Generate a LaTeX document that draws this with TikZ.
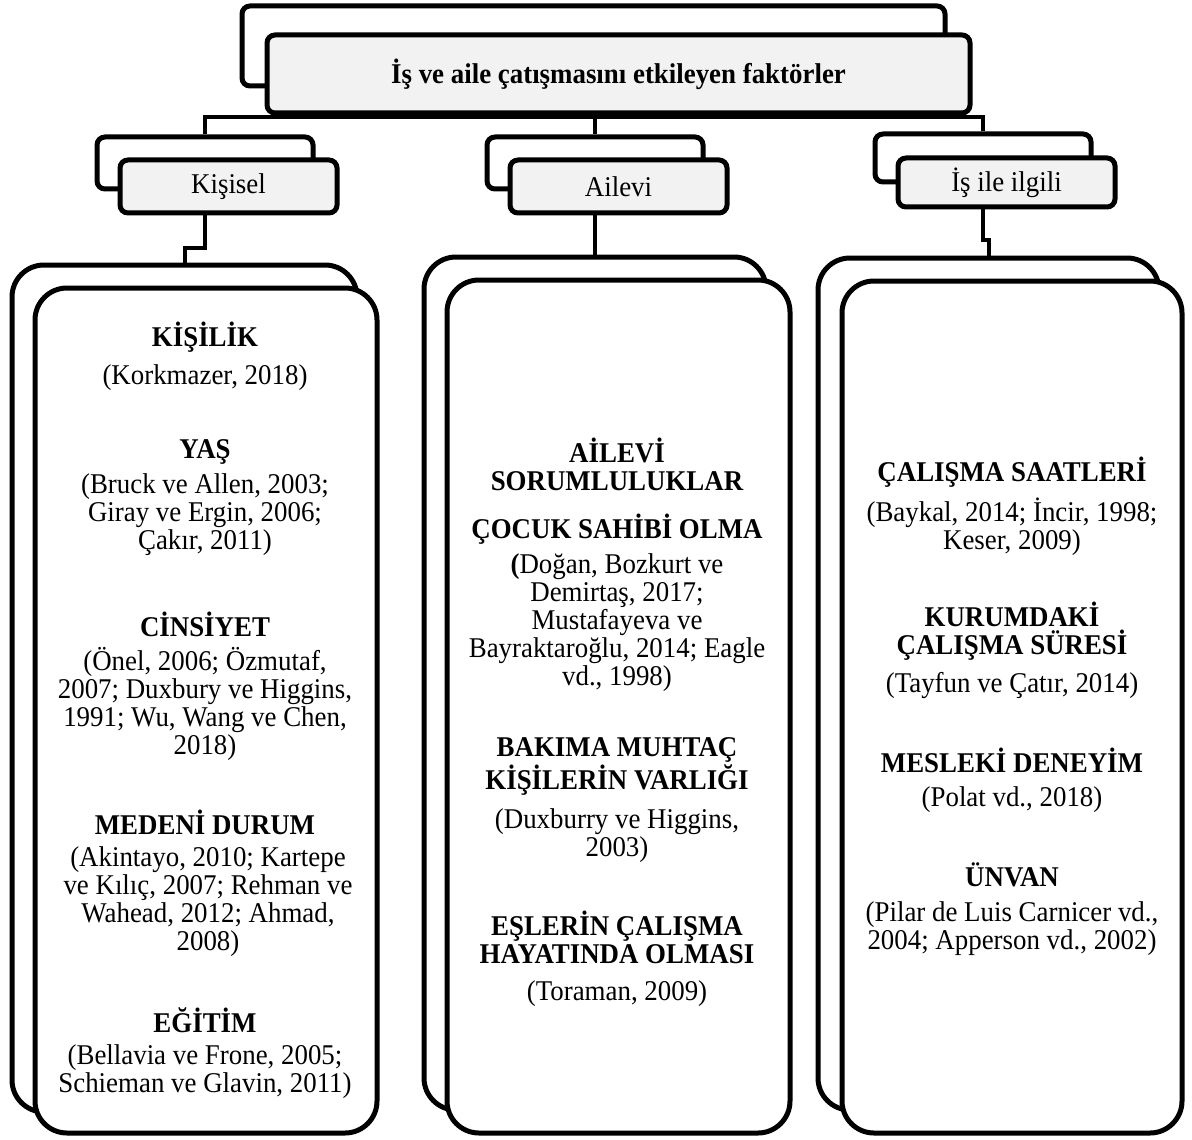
\documentclass[tikz,border=0pt]{standalone}
\usepackage{fontspec}
\setmainfont[FakeStretch=0.94]{Liberation Serif}
\definecolor{tabgray}{HTML}{F2F2F2}
\tikzset{
  txt/.style={align=center, inner sep=0pt, font=\fontsize{14.3}{14}\selectfont},
  head/.style={txt, font=\fontsize{14.3}{14}\selectfont\bfseries},
  tabback/.style={draw, line width=2.5pt, rounded corners=4pt, fill=white, inner sep=0pt},
  tabbox/.style={tabback, fill=tabgray, txt},
  cardbox/.style={draw, line width=2.5pt, rounded corners=16pt, fill=white, inner sep=0pt},
  link/.style={line width=2pt}
}
\begin{document}
\begin{tikzpicture}[x=0.5pt, y=-0.5pt]
	\useasboundingbox (0,0) rectangle (1192,1139);

	% top level
	\node[tabback, minimum width=351.5pt, minimum height=40pt](titleback) at (593.5,46) {};
	\node[tabbox, minimum width=351.5pt, minimum height=39pt, font=\fontsize{14.3}{14}\selectfont\bfseries](title) at (618.5,74) {İş ve aile çatışmasını etkileyen faktörler};

	% second level
	\node[tabback, minimum width=108pt, minimum height=26pt](kisiselback) at (205,163) {};
	\node[tabbox, minimum width=108.5pt, minimum height=26.5pt](kisisel) at (228.5,186.5) {Kişisel};
	\node[tabback, minimum width=108pt, minimum height=26pt](aileviback) at (595,163) {};
	\node[tabbox, minimum width=108.5pt, minimum height=26.5pt](ailevi) at (618.5,186.5) {Ailevi};
	\node[tabback, minimum width=108pt, minimum height=24pt](isilgiliback) at (983,158) {};
	\node[tabbox, minimum width=108.5pt, minimum height=24.5pt](isilgili) at (1006.5,182.5) {İş ile ilgili};

	% cards
	\node[cardbox, minimum width=172.5pt, minimum height=423.5pt](kisiselcardback) at (184.5,688.5) {};
	\node[cardbox, minimum width=171pt, minimum height=422.5pt](kisiselcard) at (206,710.5) {};
	\node[cardbox, minimum width=171pt, minimum height=426.5pt](ailevicardback) at (595,683.5) {};
	\node[cardbox, minimum width=171.5pt, minimum height=426.5pt](ailevicard) at (618.5,706.5) {};
	\node[cardbox, minimum width=170.5pt, minimum height=426pt](isilgilicardback) at (988.5,684) {};
	\node[cardbox, minimum width=170pt, minimum height=426pt](isilgilicard) at (1012,707) {};

	% connectors
	\coordinate (bar) at (0,117);
	\draw[link] (aileviback.north |- title.south) -- (aileviback.north);
	\draw[link] (kisiselback.north) -- (kisiselback.north |- bar) -- (isilgiliback.north |- bar) -- (isilgiliback.north);
	\draw[link] (kisiselback.center |- kisisel.south) -- ++(0,32) -| (kisiselcardback.north);
	\draw[link] (aileviback.center |- ailevi.south) -- (ailevicardback.north);
	\draw[link] (isilgiliback.center |- isilgili.south) -- ++(0,30) -| (isilgilicardback.north);

	% Kisisel
	\node[head](kisilik) at (205,337) {KİŞİLİK};
	\node[txt](kisilikref) at (205,378) {(Korkmazer, 2018)};
	\node[head](yas) at (205,452) {YAŞ};
	\node[txt](yasref) at (205,515) {(Bruck ve Allen, 2003;\\Giray ve Ergin, 2006;\\Çakır, 2011)};
	\node[head](cinsiyet) at (205,624) {CİNSİYET};
	\node[txt](cinsiyetref) at (205,704) {(Önel, 2006; Özmutaf,\\2007; Duxbury ve Higgins,\\1991; Wu, Wang ve Chen,\\2018)};
	\node[head](medeni) at (205,822) {MEDENİ DURUM};
	\node[txt](medeniref) at (208,902) {(Akintayo, 2010; Kartepe\\ve Kılıç, 2007; Rehman ve\\Wahead, 2012; Ahmad,\\2008)};
	\node[head](egitim) at (205,1020) {EĞİTİM};
	\node[txt](egitimref) at (205,1071.5) {(Bellavia ve Frone, 2005;\\Schieman ve Glavin, 2011)};

	% Ailevi
	\node[head](sorumluluk) at (617,464.5) {AİLEVİ\\SORUMLULUKLAR};
	\node[head](cocuk) at (617,529) {ÇOCUK SAHİBİ OLMA};
	\node[txt](cocukref) at (617,623) {{\bfseries(}Doğan, Bozkurt ve\\Demirtaş, 2017;\\Mustafayeva ve\\Bayraktaroğlu, 2014; Eagle\\vd., 1998)};
	\node[head](bakima) at (617,766.5) {BAKIMA MUHTAÇ\\KİŞİLERİN VARLIĞI};
	\node[txt](bakimaref) at (617,836) {(Duxburry ve Higgins,\\2003)};
	\node[head](esler) at (617,937) {EŞLERİN ÇALIŞMA\\HAYATINDA OLMASI};
	\node[txt](eslerref) at (617,994) {(Toraman, 2009)};

	% Is ile ilgili
	\node[head](saatler) at (1012,472) {ÇALIŞMA SAATLERİ};
	\node[txt](saatlerref) at (1012,527) {(Baykal, 2014; İncir, 1998;\\Keser, 2009)};
	\node[head](kurum) at (1012,631.5) {KURUMDAKİ\\ÇALIŞMA SÜRESİ};
	\node[txt](kurumref) at (1012,686) {(Tayfun ve Çatır, 2014)};
	\node[head](meslek) at (1012,760) {MESLEKİ DENEYİM};
	\node[txt](meslekref) at (1012,800) {(Polat vd., 2018)};
	\node[head](unvan) at (1012,875) {ÜNVAN};
	\node[txt](unvanref) at (1012,929) {(Pilar de Luis Carnicer vd.,\\2004; Apperson vd., 2002)};
\end{tikzpicture}
\end{document}
